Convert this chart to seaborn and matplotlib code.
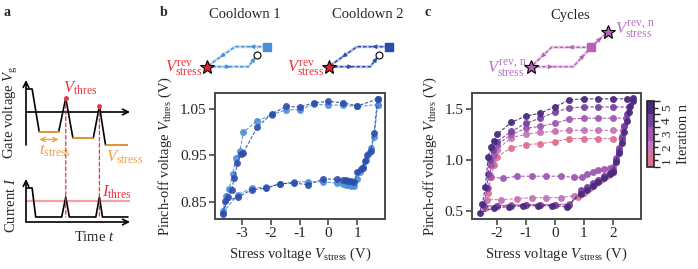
import matplotlib
matplotlib.use("Agg")
import matplotlib.pyplot as plt
from matplotlib.colors import ListedColormap, BoundaryNorm
from matplotlib.cm import ScalarMappable
from matplotlib.patches import ConnectionPatch
import seaborn as sns

# ---- panel a: schematic waveforms (arbitrary units) ----
gate_t = [0, 0.6, 1.3, 3.2, 3.9, 4.6, 6.6, 7.2, 7.8, 9.9]
gate_v = [2.3, 2.3, -2.0, -2.0, 1.4, -2.6, -2.6, 0.6, -3.3, -3.3]
current_t = [0, 0.6, 0.95, 3.5, 3.9, 4.25, 6.85, 7.2, 7.5, 10.0]
current_i = [3.4, 3.4, 0.5, 0.5, 2.5, 0.5, 0.5, 2.5, 0.5, 0.5]
i_thres = 2.1

# ---- panel b: two cooldowns ----
cd1_v = [1.71, 1.01, 0.5, 0.0, -0.5, -0.98, -1.48, -1.97, -2.47, -2.95, -3.07, -3.22,
         -3.32, -3.45, -3.57, -3.67, -3.66, -3.15, -2.66, -2.17, -1.68, -1.18, -0.69,
         -0.19, 0.29, 0.5, 0.6, 0.7, 0.8, 0.9, 1.01, 1.1, 1.2, 1.3, 1.4, 1.5, 1.6, 1.71]
cd1_thres = [1.059, 1.055, 1.058, 1.058, 1.060, 1.048, 1.048, 1.037, 1.024, 1.000, 0.960,
             0.944, 0.910, 0.878, 0.862, 0.830, 0.827, 0.865, 0.880, 0.881, 0.888, 0.893,
             0.893, 0.893, 0.890, 0.888, 0.887, 0.886, 0.885, 0.884, 0.898, 0.915, 0.925,
             0.940, 0.955, 0.965, 0.990, 1.059]
cd2_v = [1.71, 1.01, 0.5, 0.0, -0.5, -0.98, -1.48, -1.97, -2.47, -2.95, -3.05, -3.16,
         -3.27, -3.36, -3.48, -3.67, -3.58, -3.15, -2.66, -2.17, -1.68, -1.18, -0.69,
         -0.19, 0.29, 0.5, 0.6, 0.7, 0.8, 0.9, 1.01, 1.12, 1.19, 1.27, 1.36, 1.47, 1.59, 1.71]
cd2_thres = [1.071, 1.056, 1.063, 1.066, 1.063, 1.054, 1.055, 1.039, 1.011, 0.956, 0.953,
             0.933, 0.902, 0.876, 0.860, 0.823, 0.851, 0.860, 0.876, 0.879, 0.889, 0.890,
             0.887, 0.899, 0.899, 0.897, 0.896, 0.895, 0.894, 0.893, 0.915, 0.920, 0.923,
             0.937, 0.950, 0.960, 0.997, 1.071]

# ---- panel c: five cycles ----
cyc1_v = [2.3, 2.0, 1.5, 1.0, 0.5, 0.0, -0.5, -1.0, -1.5, -2.0, -2.1, -2.2, -2.3, -2.4,
          -2.0, -1.5, -1.0, -0.5, 0.0, 0.5, 0.8, 1.0, 1.2, 1.4, 1.6, 1.8, 2.0, 2.1, 2.2]
cyc1_thres = [1.21, 1.21, 1.21, 1.21, 1.21, 1.18, 1.16, 1.15, 1.12, 1.03, 0.95, 0.83, 0.68,
              0.53, 0.55, 0.56, 0.56, 0.56, 0.56, 0.57, 0.64, 0.68, 0.72, 0.76, 0.80, 0.84,
              0.88, 1.00, 1.12]
cyc2_v = [2.35, 2.0, 1.5, 1.0, 0.5, 0.0, -0.5, -1.0, -1.5, -2.0, -2.15, -2.25, -2.3, -2.35,
          -1.85, -1.3, -0.8, -0.3, 0.2, 0.65, 0.9, 1.1, 1.3, 1.5, 1.7, 1.9, 2.0, 2.1, 2.2, 2.3]
cyc2_thres = [1.29, 1.29, 1.29, 1.29, 1.29, 1.28, 1.27, 1.25, 1.22, 1.10, 1.00, 0.85, 0.72,
              0.61, 0.61, 0.62, 0.63, 0.63, 0.63, 0.65, 0.68, 0.72, 0.76, 0.79, 0.83, 0.86,
              0.89, 1.00, 1.10, 1.20]
cyc3_v = [2.45, 2.0, 1.5, 1.0, 0.5, 0.0, -0.5, -1.0, -1.5, -2.0, -2.1, -2.2, -2.25, -1.8,
          -1.3, -0.8, -0.3, 0.2, 0.65, 0.95, 1.1, 1.3, 1.5, 1.7, 1.9, 2.0, 2.1, 2.2, 2.3, 2.4]
cyc3_thres = [1.41, 1.41, 1.41, 1.41, 1.40, 1.36, 1.33, 1.31, 1.25, 1.15, 1.05, 0.95, 0.83,
              0.82, 0.84, 0.84, 0.84, 0.84, 0.83, 0.83, 0.86, 0.88, 0.90, 0.91, 0.92, 0.93,
              1.02, 1.12, 1.23, 1.33]
cyc4_v = [2.55, 2.0, 1.5, 1.0, 0.5, 0.0, -0.5, -1.0, -1.5, -2.0, -2.15, -2.25, -2.3, -2.35,
          -2.45, -2.0, -1.5, -1.0, -0.5, 0.0, 0.5, 0.9, 1.1, 1.3, 1.5, 1.7, 1.9, 2.0, 2.1,
          2.2, 2.3, 2.4, 2.5]
cyc4_thres = [1.52, 1.52, 1.52, 1.52, 1.51, 1.47, 1.41, 1.36, 1.28, 1.18, 1.10, 1.00, 0.86,
              0.72, 0.55, 0.55, 0.55, 0.56, 0.56, 0.56, 0.56, 0.70, 0.73, 0.77, 0.80, 0.84,
              0.87, 0.90, 1.00, 1.10, 1.22, 1.33, 1.45]
cyc5_v = [2.70, 2.48, 2.0, 1.5, 1.0, 0.5, 0.0, -0.5, -1.0, -1.5, -2.0, -2.1, -2.2, -2.3,
          -2.4, -2.5, -2.6, -2.1, -1.6, -1.1, -0.6, -0.1, 0.4, 0.9, 1.1, 1.3, 1.5, 1.7, 1.9,
          2.0, 2.1, 2.2, 2.3, 2.4, 2.5, 2.55, 2.6, 2.7]
cyc5_thres = [1.61, 1.60, 1.60, 1.60, 1.60, 1.59, 1.52, 1.46, 1.43, 1.37, 1.25, 1.19, 1.13,
              1.03, 0.73, 0.57, 0.48, 0.53, 0.54, 0.55, 0.55, 0.55, 0.54, 0.67, 0.70, 0.74,
              0.78, 0.82, 0.86, 0.88, 0.98, 1.07, 1.17, 1.27, 1.38, 1.47, 1.53, 1.58]
cycle_labels = [1, 2, 3, 4, 5]

# ---- schematic loops (pixel positions of the little sketches) ----
sch_b_x = [266.7, 235.0, 206.7, 248.3, 257.3]   # square, corner, star, corner, circle
sch_b_y = [46.7, 46.7, 66.7, 66.7, 55.0]
sch_b_shift = 122.0
sch_c_x = [591.0, 551.7, 531.0, 573.3, 591.0, 607.7]  # square, corner, star, corner, square, star
sch_c_y = [47.3, 47.3, 66.7, 66.7, 47.3, 31.7]

LIGHT_BLUE = "#4a8fd6"
DARK_BLUE = "#2d4bab"
CYCLE_COLORS = ["#e0708f", "#c476b9", "#a058b0", "#7a43a0", "#4a2a80"]
RED = "#ec3440"
STAR_RED = "#e8202a"
ORANGE = "#f2a040"
PURPLE_TXT = "#b674c6"
SPINE = "#4a4a4a"

sns.set_theme(style="ticks")
plt.rcParams["font.family"] = ["Liberation Serif", "DejaVu Serif"]
plt.rcParams["mathtext.fontset"] = "custom"
plt.rcParams["mathtext.rm"] = "Liberation Serif"
plt.rcParams["mathtext.it"] = "Liberation Serif:italic"
plt.rcParams["axes.unicode_minus"] = False

FS = 10.5
TICK_FS = 11

fig = plt.figure(figsize=(6.98, 2.69), dpi=100)
W, H = 698.0, 269.0


def px_axes(x0, y0, x1, y1):
    return fig.add_axes([x0 / W, 1 - y1 / H, (x1 - x0) / W, (y1 - y0) / H])


# overlay for the sketches in b and c
ov = fig.add_axes([0, 0, 1, 1])
ov.set_xlim(0, W)
ov.set_ylim(H, 0)
ov.axis("off")


def arrow_on(ax, p0, p1, color, frac=0.5, size=7):
    xm = p0[0] + (p1[0] - p0[0]) * frac
    ym = p0[1] + (p1[1] - p0[1]) * frac
    dx = (p1[0] - p0[0]) * 0.02
    dy = (p1[1] - p0[1]) * 0.02
    ax.annotate("", xy=(xm + dx, ym + dy), xytext=(xm - dx, ym - dy),
                arrowprops=dict(arrowstyle="-|>", color=color, lw=0.5,
                                mutation_scale=size, shrinkA=0, shrinkB=0))


def sketch_line(ax, xs, ys, color):
    ax.plot(xs, ys, color=color, lw=2.2, alpha=0.3, solid_capstyle="butt")
    ax.plot(xs, ys, color=color, lw=1.0, ls=(0, (2.5, 1.5)))


for shift, col in [(0.0, LIGHT_BLUE), (sch_b_shift, DARK_BLUE)]:
    xs = [x + shift for x in sch_b_x]
    ys = sch_b_y
    sketch_line(ov, xs[:3], ys[:3], col)
    sketch_line(ov, xs[2:], ys[2:], col)
    pts = list(zip(xs, ys))
    arrow_on(ov, pts[0], pts[1], col, 0.5)
    arrow_on(ov, pts[1], pts[2], col, 0.5)
    arrow_on(ov, pts[2], pts[3], col, 0.55)
    arrow_on(ov, pts[3], pts[4], col, 0.75)
    ov.plot(xs[0], ys[0], "s", ms=6, color=col)
    ov.plot(xs[4], ys[4], "o", ms=5, mfc="white", mec="black", mew=0.8)
    ov.plot(xs[2], ys[2], "*", ms=10, mfc=STAR_RED, mec="black", mew=0.8)
    ov.text(xs[2] - 4, ys[2] + 2, r"$V^{\mathrm{rev}}_{\mathrm{stress}}$", color=RED,
            fontsize=12, ha="right", va="center")

c_col = "#b860b8"
cpts = list(zip(sch_c_x, sch_c_y))
sketch_line(ov, sch_c_x[:3], sch_c_y[:3], c_col)
sketch_line(ov, sch_c_x[2:5], sch_c_y[2:5], c_col)
sketch_line(ov, sch_c_x[4:], sch_c_y[4:], c_col)
arrow_on(ov, cpts[0], cpts[1], c_col, 0.55)
arrow_on(ov, cpts[1], cpts[2], c_col, 0.5)
arrow_on(ov, cpts[2], cpts[3], c_col, 0.5)
arrow_on(ov, cpts[3], cpts[4], c_col, 0.6)
arrow_on(ov, cpts[4], cpts[5], c_col, 0.6)
ov.plot(sch_c_x[0], sch_c_y[0], "s", ms=6, color=c_col)
for i in (2, 5):
    ov.plot(sch_c_x[i], sch_c_y[i], "*", ms=10, mfc=c_col, mec="black", mew=0.8)
ov.text(sch_c_x[2] - 4, sch_c_y[2] + 2, r"$V^{\mathrm{rev,\,n}}_{\mathrm{stress}}$",
        color=PURPLE_TXT, fontsize=12, ha="right", va="center")
ov.text(sch_c_x[5] + 7, sch_c_y[5] - 2, r"$V^{\mathrm{rev,\,n}}_{\mathrm{stress}}$",
        color=PURPLE_TXT, fontsize=12, ha="left", va="center")

# titles and panel letters
for x, y, s in [(245, 15, "Cooldown 1"), (368, 15, "Cooldown 2"), (570, 15, "Cycles")]:
    fig.text(x / W, 1 - y / H, s, fontsize=FS, ha="center", va="center")
for x, y, s in [(7, 12, "a"), (164, 12, "b"), (428, 12, "c")]:
    fig.text(x / W, 1 - y / H, s, fontsize=10, fontweight="bold", ha="center", va="center")

# ---- panel a ----
ax_g = px_axes(26, 78, 130, 146)
ax_g.set_xlim(0, 10.2)
ax_g.set_ylim(-3.4, 3.4)
ax_g.axis("off")
ax_i = px_axes(26, 176, 130, 224)
ax_i.set_xlim(0, 10.2)
ax_i.set_ylim(-0.2, 4.6)
ax_i.axis("off")

arrow_kw = dict(arrowstyle="->", color="black", lw=1.2, shrinkA=0, shrinkB=0,
                mutation_scale=10)
ax_g.annotate("", xy=(0, 3.2), xytext=(0, -3.3), arrowprops=arrow_kw)
ax_g.annotate("", xy=(10.2, 0), xytext=(0, 0), arrowprops=arrow_kw)
ax_i.annotate("", xy=(0, 4.3), xytext=(0, 0), arrowprops=arrow_kw)
ax_i.annotate("", xy=(10.2, 0), xytext=(0, 0), arrowprops=arrow_kw)

sns.lineplot(x=gate_t, y=gate_v, sort=False, estimator=None, ax=ax_g, color="black", lw=1.2)
for a, b in [(2, 3), (5, 6), (8, 9)]:
    ax_g.plot(gate_t[a:b + 1], gate_v[a:b + 1], color=ORANGE, lw=1.3)
ax_g.annotate("", xy=(gate_t[3], -2.75), xytext=(gate_t[2], -2.75),
              arrowprops=dict(arrowstyle="<->", color=ORANGE, lw=1.0, shrinkA=0, shrinkB=0,
                              mutation_scale=8))
ax_g.plot([gate_t[4], gate_t[7]], [gate_v[4], gate_v[7]], "o", color=RED, ms=2.5)

ax_i.axhline(i_thres, color="#f4a3aa", lw=1.6, xmin=0, xmax=1)
sns.lineplot(x=current_t, y=current_i, sort=False, estimator=None, ax=ax_i, color="black",
             lw=1.2)

for k in (4, 7):
    con = ConnectionPatch(xyA=(gate_t[k], gate_v[k]), coordsA=ax_g.transData,
                          xyB=(gate_t[k], current_i[2]), coordsB=ax_i.transData,
                          color=RED, lw=0.9, ls=(0, (3, 2)))
    fig.add_artist(con)

ax_g.text(3.6, 1.95, r"$V_{\mathrm{thres}}$", color=RED, fontsize=12, ha="left",
          va="baseline")
ax_g.text(1.25, -4.3, r"$t_{\mathrm{stress}}$", color=ORANGE, fontsize=12, ha="left",
          va="baseline")
ax_g.text(7.85, -5.0, r"$V_{\mathrm{stress}}$", color=ORANGE, fontsize=12, ha="left",
          va="baseline")
ax_i.text(7.5, 2.5, r"$I_{\mathrm{thres}}$", color=RED, fontsize=12, ha="left",
          va="baseline")
ax_i.text(6.7, -1.9, r"Time $t$", fontsize=FS, ha="center", va="baseline")
fig.text(11 / W, 1 - 112 / H, r"Gate voltage $V_{\mathrm{g}}$", fontsize=FS, rotation=90,
         ha="center", va="center")
fig.text(11 / W, 1 - 205 / H, r"Current $I$", fontsize=FS, rotation=90, ha="center",
         va="center")

# ---- panel b ----
ax_b = px_axes(215, 93, 385, 219)
for xs, ys, col in [(cd1_v, cd1_thres, LIGHT_BLUE), (cd2_v, cd2_thres, DARK_BLUE)]:
    sns.lineplot(x=xs, y=ys, sort=False, estimator=None, ax=ax_b, color=col, lw=0.8,
                 linestyle=(0, (3, 1.5)), marker="o", markersize=5, markeredgewidth=0,
                 alpha=0.9)
ax_b.set_xlim(-3.94, 1.97)
ax_b.set_ylim(0.813, 1.084)
ax_b.set_xticks([-3, -2, -1, 0, 1])
ax_b.set_yticks([0.85, 0.95, 1.05])
ax_b.set_xlabel(r"Stress voltage $V_{\mathrm{stress}}$ (V)", fontsize=FS)
ax_b.set_ylabel(r"Pinch-off voltage $V_{\mathrm{thres}}$ (V)", fontsize=FS)

# ---- panel c ----
ax_c = px_axes(472, 93, 641, 219)
cycles = [(cyc1_v, cyc1_thres), (cyc2_v, cyc2_thres), (cyc3_v, cyc3_thres),
          (cyc4_v, cyc4_thres), (cyc5_v, cyc5_thres)]
for (xs, ys), col in zip(cycles, CYCLE_COLORS):
    sns.lineplot(x=xs, y=ys, sort=False, estimator=None, ax=ax_c, color=col, lw=0.8,
                 linestyle=(0, (3, 1.5)), marker="o", markersize=5, markeredgewidth=0,
                 alpha=0.95)
ax_c.set_xlim(-2.86, 2.97)
ax_c.set_ylim(0.42, 1.657)
ax_c.set_xticks([-2, -1, 0, 1, 2])
ax_c.set_yticks([0.5, 1.0, 1.5])
ax_c.set_xlabel(r"Stress voltage $V_{\mathrm{stress}}$ (V)", fontsize=FS)
ax_c.set_ylabel(r"Pinch-off voltage $V_{\mathrm{thres}}$ (V)", fontsize=FS)

for ax in (ax_b, ax_c):
    for sp in ax.spines.values():
        sp.set_visible(True)
        sp.set_color(SPINE)
        sp.set_linewidth(1.4)
    ax.tick_params(axis="both", length=4, width=1.2, color=SPINE, labelsize=TICK_FS, pad=2)

# colorbar
cax = px_axes(647, 101, 654, 167)
cmap = ListedColormap(CYCLE_COLORS)
norm = BoundaryNorm([0.5, 1.5, 2.5, 3.5, 4.5, 5.5], cmap.N)
cb = fig.colorbar(ScalarMappable(norm=norm, cmap=cmap), cax=cax, ticks=cycle_labels)
cb.outline.set_linewidth(1.2)
cb.outline.set_edgecolor("#222222")
cb.ax.tick_params(length=3, width=1.0, labelsize=9.5, pad=2, labelrotation=90)
for lab in cb.ax.get_yticklabels():
    lab.set_va("center")
cb.set_label("Iteration n", fontsize=FS, labelpad=3)

fig.savefig("out.png", dpi=100)
